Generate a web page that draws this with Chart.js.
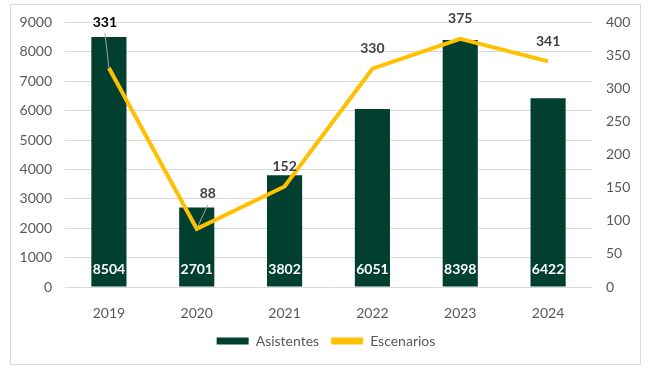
<!DOCTYPE html>
<html>
<head>
<meta charset="utf-8">
<script src="https://cdn.jsdelivr.net/npm/chart.js@4.4.1/dist/chart.umd.min.js"></script>
<style>
  html, body { margin: 0; padding: 0; background: #fff; }
  #caja { position: relative; width: 652px; height: 368px; }
</style>
</head>
<body>
<div id="caja"><canvas id="grafico" width="652" height="368"></canvas></div>
<script>
// DATOS
const anios = ["2019", "2020", "2021", "2022", "2023", "2024"];
const asistentes = [8504, 2701, 3802, 6051, 8398, 6422];
const escenarios = [331, 88, 152, 330, 375, 341];

// etiquetas movidas a mano (como en excel) -> desplazamiento en px
const movidas = { 0: { dx: -4, dy: -46 }, 1: { dx: 11, dy: -35 } };

const VERDE = "#01402F";
const AMARILLO = "#FFC000";
const GRIS = "#595959";
const FUENTE = "Lato, 'Liberation Sans', sans-serif";

// MARCO Y ETIQUETAS
const etiquetas = {
    id: "etiquetas",
    beforeDraw(chart) {
        const c = chart.ctx;
        c.save();
        c.fillStyle = "#fff";
        c.fillRect(0, 0, chart.width, chart.height);
        c.strokeStyle = "#d9d9d9";
        c.lineWidth = 1;
        c.strokeRect(10.5, 4.5, 630, 360);
        c.restore();
    },
    afterDatasetsDraw(chart) {
        const c = chart.ctx;
        c.save();
        c.font = "bold 14px " + FUENTE;
        c.textAlign = "center";
        c.textBaseline = "middle";

        // valores de barras
        const barras = chart.getDatasetMeta(0);
        barras.data.forEach((b, i) => {
            c.fillStyle = "#fff";
            c.fillText(asistentes[i], b.x, b.base - 17);
        });

        // valores de la linea
        const linea = chart.getDatasetMeta(1);
        linea.data.forEach((p, i) => {
            const m = movidas[i];
            let x = p.x, y = p.y - 20;
            if (m) {
                x = p.x + m.dx;
                y = p.y + m.dy;
                c.strokeStyle = "#a6a6a6";
                c.lineWidth = 1;
                c.beginPath();
                c.moveTo(x, y + 11);
                c.lineTo(p.x, p.y);
                c.stroke();
            }
            c.fillStyle = i === 0 ? "#000" : "#404040";
            c.fillText(escenarios[i], x, y);
        });
        c.restore();
    }
};

const ctx = document.getElementById("grafico").getContext("2d");

new Chart(ctx, {
    data: {
        labels: anios,
        datasets: [
            {
                type: "bar",
                label: "Asistentes",
                data: asistentes,
                backgroundColor: VERDE,
                borderWidth: 0,
                categoryPercentage: 1,
                barPercentage: 0.4,
                yAxisID: "y",
                order: 2
            },
            {
                type: "line",
                label: "Escenarios",
                data: escenarios,
                borderColor: AMARILLO,
                backgroundColor: AMARILLO,
                borderWidth: 4,
                pointRadius: 0,
                tension: 0,
                yAxisID: "y2",
                order: 1
            }
        ]
    },
    options: {
        responsive: false,
        animation: false,
        layout: { padding: { top: 21, bottom: 10, left: 0, right: 0 } },
        plugins: {
            tooltip: { enabled: false },
            legend: {
                position: "bottom",
                labels: {
                    color: GRIS,
                    font: { family: FUENTE, size: 14 },
                    boxWidth: 32,
                    boxHeight: 7,
                    padding: 12,
                    sort: (a, b) => a.datasetIndex - b.datasetIndex,
                    generateLabels(chart) {
                        const items = Chart.defaults.plugins.legend.labels.generateLabels(chart);
                        items.forEach(it => { it.lineWidth = 0; });
                        return items;
                    }
                }
            }
        },
        scales: {
            x: {
                grid: { display: false },
                border: { display: false },
                ticks: { color: GRIS, font: { family: FUENTE, size: 14 }, padding: 10 },
                afterFit(s) { s.height = 35; }
            },
            y: {
                position: "left",
                min: 0,
                max: 9000,
                grid: { color: "#d9d9d9", drawTicks: false },
                border: { display: false },
                ticks: {
                    stepSize: 1000, color: GRIS, font: { family: FUENTE, size: 14 }, padding: 13,
                    callback: v => String(v)
                },
                afterFit(s) { s.width = 65; }
            },
            y2: {
                position: "right",
                min: 0,
                max: 400,
                grid: { display: false, drawTicks: false },
                border: { display: false },
                ticks: { stepSize: 50, color: GRIS, font: { family: FUENTE, size: 14 }, padding: 14 },
                afterFit(s) { s.width = 60; }
            }
        }
    },
    plugins: [etiquetas]
});
</script>
</body>
</html>
